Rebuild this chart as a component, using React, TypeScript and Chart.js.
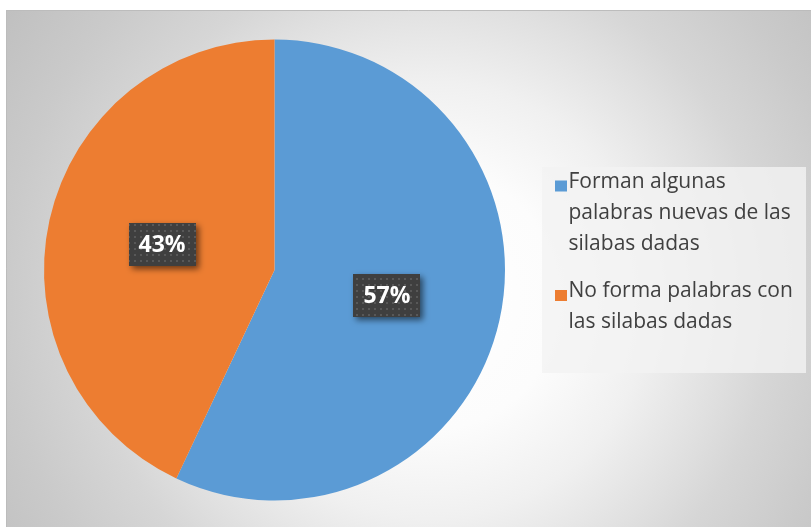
import React, { useEffect, useRef } from "react";
import { Chart, registerables } from "chart.js";

Chart.register(...registerables);

const categories = [
  "Forman algunas palabras nuevas de las silabas dadas",
  "No forma palabras con las silabas dadas",
];
const values = [57, 43];
const sliceColors = ["#5B9BD5", "#ED7D31"];

function wrapText(ctx: CanvasRenderingContext2D, text: string, maxWidth: number): string[] {
  const words = text.split(" ");
  const lines: string[] = [];
  let cur = "";
  for (const w of words) {
    const test = cur ? cur + " " + w : w;
    if (ctx.measureText(test).width > maxWidth && cur) {
      lines.push(cur);
      cur = w;
    } else {
      cur = test;
    }
  }
  if (cur) lines.push(cur);
  return lines;
}

export default function App() {
  const ref = useRef<HTMLCanvasElement>(null);

  useEffect(() => {
    document.body.style.margin = "0";
    const canvas = ref.current!;

    const bgPlugin = {
      id: "bgPlugin",
      beforeDraw(chart: any) {
        const ctx = chart.ctx as CanvasRenderingContext2D;
        const W = chart.width;
        const H = chart.height;
        ctx.save();
        ctx.fillStyle = "#ffffff";
        ctx.fillRect(0, 0, W, H);
        const g = ctx.createRadialGradient(430, 300, 0, 430, 300, 520);
        g.addColorStop(0, "#ffffff");
        g.addColorStop(0.25, "#fcfcfc");
        g.addColorStop(0.42, "#f0f0f0");
        g.addColorStop(0.58, "#dfdfdf");
        g.addColorStop(0.66, "#d6d6d6");
        g.addColorStop(0.82, "#cacaca");
        g.addColorStop(1, "#bfbfbf");
        ctx.fillStyle = g;
        ctx.fillRect(6, 10, W - 6, H - 10);
        ctx.strokeStyle = "#bcbcbc";
        ctx.lineWidth = 1;
        ctx.beginPath();
        ctx.moveTo(6.5, H);
        ctx.lineTo(6.5, 10.5);
        ctx.lineTo(W, 10.5);
        ctx.stroke();
        ctx.restore();
      },
    };

    const pat = document.createElement("canvas");
    pat.width = 6;
    pat.height = 6;
    const pctx = pat.getContext("2d")!;
    pctx.fillStyle = "#3f3f3f";
    pctx.fillRect(0, 0, 6, 6);
    pctx.fillStyle = "#585858";
    pctx.fillRect(2, 2, 2, 2);

    const labelPlugin = {
      id: "labelPlugin",
      afterDatasetsDraw(chart: any) {
        const ctx = chart.ctx as CanvasRenderingContext2D;
        const meta = chart.getDatasetMeta(0);
        const data = chart.data.datasets[0].data as number[];
        const total = data.reduce((a, b) => a + b, 0);
        const pattern = ctx.createPattern(pat, "repeat")!;
        meta.data.forEach((arc: any, i: number) => {
          const { x, y } = arc.getCenterPoint();
          const txt = Math.round((data[i] / total) * 100) + "%";
          ctx.save();
          ctx.font = "bold 23px 'Open Sans'";
          const tw = ctx.measureText(txt).width;
          const w = tw + 20;
          const h = 43;
          ctx.shadowColor = "rgba(0,0,0,0.55)";
          ctx.shadowBlur = 6;
          ctx.shadowOffsetX = 3;
          ctx.shadowOffsetY = 3;
          ctx.fillStyle = pattern;
          ctx.fillRect(Math.round(x - w / 2), Math.round(y - h / 2), Math.round(w), h);
          ctx.shadowColor = "transparent";
          ctx.fillStyle = "#ffffff";
          ctx.textAlign = "center";
          ctx.textBaseline = "middle";
          ctx.fillText(txt, x, y + 1);
          ctx.restore();
        });
      },
    };

    const legendPlugin = {
      id: "legendPlugin",
      afterDraw(chart: any) {
        const ctx = chart.ctx as CanvasRenderingContext2D;
        const labels = chart.data.labels as string[];
        const colors = chart.data.datasets[0].backgroundColor as string[];
        ctx.save();
        ctx.fillStyle = "rgba(242,242,242,0.8)";
        ctx.fillRect(542, 167, 264, 206);
        ctx.font = "21px 'Open Sans'";
        ctx.textBaseline = "alphabetic";
        ctx.textAlign = "left";
        let baseline = 187.5;
        const lineH = 31;
        labels.forEach((lab, i) => {
          const lines = wrapText(ctx, lab, 232);
          ctx.fillStyle = colors[i];
          ctx.fillRect(555, baseline - 7, 12, 11);
          ctx.fillStyle = "#404040";
          lines.forEach((ln, j) => {
            ctx.fillText(ln, 568.5, baseline + j * lineH);
          });
          baseline += lines.length * lineH + 16.5;
        });
        ctx.restore();
      },
    };

    const chart = new Chart(canvas, {
      type: "pie",
      data: {
        labels: categories,
        datasets: [
          {
            data: values,
            backgroundColor: sliceColors,
            borderWidth: 0,
          },
        ],
      },
      options: {
        responsive: false,
        animation: false,
        layout: { padding: { left: 44, top: 39.5, right: 306, bottom: 26.5 } },
        plugins: {
          legend: { display: false },
          tooltip: { enabled: false },
        },
      },
      plugins: [bgPlugin, labelPlugin, legendPlugin],
    });

    return () => chart.destroy();
  }, []);

  return (
    <div style={{ width: 811, height: 527 }}>
      <canvas ref={ref} width={811} height={527} style={{ display: "block" }} />
    </div>
  );
}
